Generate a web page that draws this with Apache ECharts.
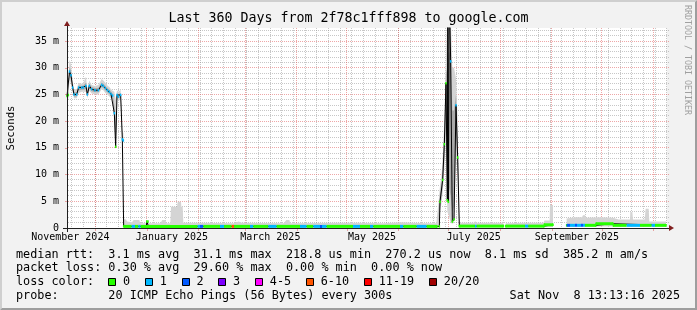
<!DOCTYPE html>
<html><head><meta charset="utf-8">
<script src="https://cdn.jsdelivr.net/npm/echarts@6/dist/echarts.min.js"></script>
<style>html,body{margin:0;padding:0;background:#f2f2f2;}#c{width:697px;height:310px;}</style>
</head><body><div id="c"></div>
<script>
// ---- time window: x values are days since the window start ----
const START = Date.UTC(2024, 10, 14, 0, 30);
const SPAN_DAYS = 360;
const Y_MAX = 37.45; // ms
const DAY = 86400000;

// ---- axis tick labels ----
const xLabelText = ['November 2024','January 2025','March 2025','May 2025','July 2025','September 2025'];
const xLabelMonth = [[2024,10],[2025,0],[2025,2],[2025,4],[2025,6],[2025,8]];
const yMajorTicks = [0,5,10,15,20,25,30,35];

// ---- loss colour legend ----
const lossLabels = ['0','1','2','3','4-5','6-10','11-19','20/20'];
const lossColors = ['#26ff00','#00b8ff','#0059ff','#7e00ff','#ff00ff','#ff5500','#ff0000','#a00000'];

// ---- median rtt samples (ms), null = no data ----
const medianDay = [0,0.8,1.5,2.4,3.4,4.2,5.8,7.0,8.8,9.8,11.4,12.2,13.4,14.8,16.8,18.8,20.8,21.8,23.0,24.2,25.4,26.4,27.4,28.4,29.2,30.0,30.8,32.2,33.2,33.8,
  34.0,47.6,47.9,48.6,48.9,222.0,
  223.4,223.8,225.4,226.4,227.4,228.2,228.5,228.8,229.4,230.2,231.2,232.2,233.4,234.4,235.4,
  235.6,261.8,262.5,
  263.2,286.2,286.4,291.6,295.0,
  299.8,317.2,317.4,327.6,327.8,359.4];
const medianMs = [24.7,24.9,29.3,28.6,26.3,25.0,25.0,26.3,26.3,26.3,26.6,25.0,26.6,26.0,25.8,25.8,26.8,26.6,26.2,25.8,25.5,25.1,24.8,21.5,15.2,24.9,24.6,24.9,16.6,16.4,
  0.3,0.3,1.2,1.2,0.3,0.3,
  0.3,4.9,9.0,15.7,27.1,5.2,45,4.9,45,31.2,1.2,1.6,23.0,13.2,0.35,
  0.35,0.35,null,
  0.35,0.35,0.6,0.6,null,
  0.5,0.5,0.8,0.8,0.5,0.5];
const medianLoss = [0,0,1,1,1,1,1,1,1,1,1,1,1,1,1,1,1,1,1,1,1,1,1,1,0,1,1,1,1,1,
  0,0,0,0,0,0,
  0,0,0,0,0,0,0,0,0,1,0,0,1,0,0,
  0,0,0,
  0,0,0,0,0,
  0,0,0,0,0,0];

// ---- loss-coloured median runs ----
const stripFrom = [34.2,38.8,40.8,42.8,44.2,78.4,79.8,81.8,91.8,94.2,98.8,100.2,109.8,111.8,120.8,125.8,139.8,143.8,147.8,151.8,153.0,155.8,171.6,175.8,181.8,183.8,199.8,201.8,209.8,215.8,
  235.6,244.8,245.8,
  263.2,274.8,276.8,286.2,
  299.8,301.8,304.8,306.0,308.4,309.6,310.8,317.4,327.6,335.8,343.8,350.8,352.8];
const stripTo = [38.8,40.8,42.8,44.2,78.4,79.8,81.8,91.8,94.2,98.8,100.2,109.8,111.8,120.8,125.8,139.8,143.8,147.8,151.8,153.0,155.8,171.6,175.8,181.8,183.8,199.8,201.8,209.8,215.8,222.0,
  244.8,245.8,261.8,
  274.8,276.8,286.2,291.6,
  301.8,304.8,306.0,308.4,309.6,310.8,317.4,327.6,335.8,343.8,350.8,352.8,359.4];
const stripMs = [0.3,0.3,0.3,0.3,0.3,0.3,0.3,0.3,0.3,0.3,0.3,0.3,0.3,0.3,0.3,0.3,0.3,0.3,0.3,0.3,0.3,0.3,0.3,0.3,0.3,0.3,0.3,0.3,0.3,0.3,
  0.35,0.35,0.35,
  0.35,0.35,0.35,0.6,
  0.5,0.5,0.5,0.5,0.5,0.5,0.5,0.8,0.5,0.5,0.5,0.5,0.5];
const stripLoss = [0,1,0,1,0,1,2,0,1,0,5,0,1,0,1,0,1,0,1,2,1,0,1,0,1,0,1,0,1,0,
  0,1,0,
  0,1,0,0,
  2,1,2,1,2,1,0,0,0,1,0,1,0];

// ---- smoke (full ping spread), ms ----
const smokeDay = [0,0.8,1.5,2.4,3.4,4.2,5.8,7.0,8.8,9.8,11.4,12.2,13.4,14.8,16.8,18.8,20.8,21.8,23.0,24.2,25.4,26.4,27.4,28.4,29.2,30.0,30.8,32.2,33.2,33.8,
  34.0,35.4,36.0,39.0,40.0,43.4,44.0,47.6,48.0,48.8,49.2,56.0,57.2,59.0,59.6,62.0,62.4,66.0,66.4,68.4,68.6,69.4,69.8,80.0,100.0,103.0,105.0,130.0,131.6,133.4,134.0,160.0,175.0,190.0,200.0,215.0,221.6,
  223.0,223.8,224.6,225.4,226.4,227.4,228.2,229.0,230.2,231.2,232.2,233.4,234.4,235.2,235.6,
  244.4,244.8,245.8,261.8,262.4,
  263.2,275.0,286.0,286.4,289.6,289.8,291.6,292.0,
  299.8,305.0,309.0,309.6,310.8,311.4,320.0,327.6,331.0,337.8,338.0,339.2,339.6,346.6,347.2,349.0,349.4,359.4];
const smokeLo = [24.0,24.2,27.8,27.0,25.5,24.3,24.3,25.3,25.5,25.5,25.5,24.3,25.7,25.2,25.0,25.0,26.0,25.8,25.3,25.0,24.6,24.3,24.0,20.0,14.8,24.0,23.9,24.0,16.0,16.0,
  0.2,0.2,0.2,0.2,0.2,0.2,0.2,0.2,0.2,0.2,0.2,0.2,0.2,0.2,0.2,0.2,0.2,0.2,0.2,0.2,0.2,0.2,0.2,0.2,0.2,0.2,0.2,0.2,0.2,0.2,0.2,0.2,0.2,0.2,0.2,0.2,0.2,
  0.2,3.0,4.5,6.5,11.0,17.0,3.0,2.5,1.0,0.8,1.0,14.0,10.0,0.5,0.2,
  0.2,0.2,0.2,0.2,null,
  0.2,0.2,0.2,0.2,0.2,0.2,0.2,null,
  0.3,0.3,0.3,0.3,0.3,0.3,0.3,0.3,0.3,0.3,0.3,0.3,0.3,0.3,0.3,0.3,0.3,0.3];
const smokeHi = [25.5,27.0,31.5,30.5,27.5,26.0,26.0,27.2,27.0,27.2,28.3,26.0,27.6,26.8,26.6,26.8,27.9,27.6,27.2,26.7,26.4,26.0,25.7,25.5,24.0,25.8,25.5,25.9,18.0,17.8,
  1.7,1.6,1.2,1.1,1.5,1.5,0.9,0.9,1.3,1.3,0.9,0.9,1.5,1.5,0.9,0.9,4.0,4.0,4.9,4.9,4.0,4.0,1.0,1.0,0.9,1.2,1.0,0.9,1.5,1.5,0.9,1.0,1.0,0.9,1.1,0.9,0.9,
  5.0,8.0,9.5,13.0,20.0,32.0,40,40,40,30,30,28.0,20.0,3.0,1.0,
  1.0,1.3,1.0,1.0,null,
  0.9,1.0,1.0,1.4,1.4,4.3,4.3,null,
  1.8,2.0,2.0,2.4,2.4,1.9,2.0,1.9,1.6,1.6,3.0,3.0,1.6,1.6,3.6,3.6,1.2,1.2];

// ---- denser smoke core (most pings), ms ----
const coreDay = [0,0.8,1.5,2.4,3.4,4.2,5.8,7.0,8.8,9.8,11.4,12.2,13.4,14.8,16.8,18.8,20.8,21.8,23.0,24.2,25.4,26.4,27.4,28.4,29.2,30.0,30.8,32.2,33.2,33.8,33.9,
  223.0,223.8,224.6,225.4,226.4,227.4,228.2,229.0,230.2,231.2,232.2,233.4,234.4,235.2];
const coreLo = [24.4,24.5,28.6,27.8,25.9,24.6,24.6,25.8,25.9,25.9,26.0,24.6,26.1,25.6,25.4,25.4,26.4,26.2,25.8,25.4,25.1,24.7,24.4,20.8,15.0,24.5,24.3,24.5,16.3,16.2,null,
  1.0,4.0,5.5,8.0,13.0,22.0,8.0,8.0,6.0,3.0,4.0,18.0,12.0,1.0];
const coreHi = [25.1,25.6,30.2,29.4,26.8,25.4,25.4,26.7,26.6,26.7,27.2,25.4,27.0,26.4,26.2,26.2,27.2,27.0,26.6,26.2,25.9,25.5,25.2,23.0,20.0,25.2,25.0,25.3,17.2,17.0,null,
  3.0,6.5,8.0,11.0,17.5,29.0,30.0,32.0,34.0,22.0,22.0,25.0,16.0,2.0];

// ---- derived tick positions ----
const monthStartDays = [];
for (let m = 11; m <= 23; m++) {
  const d = (Date.UTC(2024, m, 1) - START) / DAY;
  if (d > 0 && d < SPAN_DAYS) monthStartDays.push(d);
}
const weekDays = [];
for (let t = Date.UTC(2024, 10, 17); (t - START) / DAY < SPAN_DAYS; t += 7 * DAY) weekDays.push((t - START) / DAY);
const xLabelDays = xLabelMonth.map(([y, m]) => (Date.UTC(y, m, 16) - START) / DAY);
const yMinorTicks = [];
for (let v = 1; v < Y_MAX; v++) if (v % 5 !== 0) yMinorTicks.push(v);

// ---- build series data ----
const smokeData = smokeDay.map((d, i) => [d, smokeLo[i], smokeHi[i]]);
const coreData = coreDay.map((d, i) => [d, coreLo[i], coreHi[i]]);
const medianData = medianDay.map((d, i) => ({value: [d, medianMs[i]], itemStyle: {color: lossColors[medianLoss[i]]}}));
const stripData = stripFrom.map((d, i) => [d, stripTo[i], stripMs[i], stripLoss[i]]);

const MONO = "'DejaVu Sans Mono', monospace";
const MGRID = 'rgba(222,79,79,0.5)';
const GRID = 'rgba(143,143,143,0.5)';

const GL = 67, GT = 28, GW = 600, GH = 200;

const chart = echarts.init(document.getElementById('c'), null, {width: 697, height: 310});

function txt(x, y, text, extra) {
  return Object.assign({type: 'text', x: x, y: y, silent: true,
    style: Object.assign({text: text, fill: '#000', fontFamily: 'DejaVu Sans Mono', fontSize: 11.8,
      align: 'left', textAlign: 'left', verticalAlign: 'middle', textVerticalAlign: 'middle'}, extra && extra.style || {})},
    extra && extra.rotation !== undefined ? {rotation: extra.rotation} : {});
}

const graphics = [];
graphics.push({type: 'polygon', shape: {points: [[0,310],[2,308],[2,2],[695,2],[697,0],[0,0]]}, style: {fill: '#cfcfcf'}, silent: true});
graphics.push({type: 'polygon', shape: {points: [[2,308],[695,308],[695,2],[697,0],[697,310],[0,310]]}, style: {fill: '#9e9e9e'}, silent: true});
graphics.push(txt(348.5, 18.5, 'Last 360 Days from 2f78c1fff898 to google.com', {style: {fontSize: 13.3, align: 'center', textAlign: 'center'}}));
graphics.push(txt(10.8, GT + GH / 2, 'Seconds', {rotation: Math.PI / 2, style: {fontSize: 10.7, align: 'center', textAlign: 'center'}}));
graphics.push(txt(687.5, 60, 'RRDTOOL / TOBI OETIKER', {rotation: -Math.PI / 2, style: {fontSize: 8.3, fill: '#a0a0a0', align: 'center', textAlign: 'center'}}));
graphics.push(txt(16, 254.5, 'median rtt:  3.1 ms avg  31.1 ms max  218.8 us min  270.2 us now  8.1 ms sd  385.2 m am/s'));
graphics.push(txt(16, 268, 'packet loss: 0.30 % avg  29.60 % max  0.00 % min  0.00 % now'));
graphics.push(txt(16, 282, 'loss color:'));
graphics.push(txt(16, 296, 'probe:       20 ICMP Echo Pings (56 Bytes) every 300s'));
graphics.push(txt(680, 296, 'Sat Nov  8 13:13:16 2025', {style: {align: 'right', textAlign: 'right'}}));
let bx = 108.3;
lossLabels.forEach((lab, i) => {
  const rx = Math.round(bx) + 0.5;
  graphics.push({type: 'rect', shape: {x: rx, y: 278.5, width: 7, height: 7}, style: {fill: lossColors[i], stroke: '#000', lineWidth: 1}, silent: true});
  graphics.push(txt(bx + 14.7, 282, lab));
  bx = bx + 14.7 + lab.length * 7.1 + 14.9;
});
graphics.push({type: 'polygon', shape: {points: [[GL + GW + 2, GT + GH - 3], [GL + GW + 2, GT + GH + 3], [GL + GW + 7, GT + GH]]}, style: {fill: '#801f1f'}, silent: true, z: 100});
graphics.push({type: 'polygon', shape: {points: [[GL - 3, GT - 2], [GL + 3, GT - 2], [GL, GT - 7]]}, style: {fill: '#801f1f'}, silent: true, z: 100});
graphics.push({type: 'line', shape: {x1: GL - 4, y1: GT + GH + 0.5, x2: GL + GW + 4, y2: GT + GH + 0.5}, style: {stroke: '#1f1f1f', lineWidth: 1}, silent: true, z: 99});
graphics.push({type: 'line', shape: {x1: GL + 0.5, y1: GT + GH + 4, x2: GL + 0.5, y2: GT - 4}, style: {stroke: '#1f1f1f', lineWidth: 1}, silent: true, z: 99});

const crisp = v => Math.round(v - 0.5) + 0.5;

function bandRenderer(days, lo, hi, color) {
  return (params, api) => {
    if (params.dataIndex !== 0) return null;
    const children = [];
    let run = [];
    const flush = () => {
      if (run.length > 1) {
        const top = run.map(i => api.coord([days[i], hi[i]]));
        const bot = run.map(i => api.coord([days[i], lo[i]])).reverse();
        children.push({type: 'polygon', shape: {points: top.concat(bot)}, style: {fill: color}});
      }
      run = [];
    };
    for (let i = 0; i < days.length; i++) {
      if (lo[i] == null || hi[i] == null) flush(); else run.push(i);
    }
    flush();
    return {type: 'group', children: children};
  };
}

const option = {
  backgroundColor: '#f2f2f2',
  animation: false,
  grid: {left: GL, top: GT, width: GW, height: GH, show: true, backgroundColor: '#ffffff', borderWidth: 0, z: 0},
  xAxis: [
    {type: 'value', min: 0, max: SPAN_DAYS, position: 'bottom',
      axisLine: {show: true, onZero: false, lineStyle: {color: '#1f1f1f', width: 1}},
      axisTick: {show: true, customValues: monthStartDays, length: 3, lineStyle: {color: MGRID}},
      axisLabel: {show: true, customValues: xLabelDays, margin: 4, fontFamily: MONO, fontSize: 10, color: '#000',
        formatter: v => { const i = xLabelDays.findIndex(d => Math.abs(d - v) < 0.01); return i >= 0 ? xLabelText[i] : ''; }},
      splitLine: {show: false}}
  ],
  yAxis: [
    {type: 'value', min: 0, max: Y_MAX, position: 'left',
      axisLine: {show: true, onZero: false, lineStyle: {color: '#1f1f1f', width: 1}},
      axisTick: {show: true, customValues: yMajorTicks, length: 2, lineStyle: {color: MGRID}},
      axisLabel: {show: true, customValues: yMajorTicks, margin: 8, fontFamily: MONO, fontSize: 10, color: '#000',
        formatter: v => v === 0 ? '0' : v + ' m'},
      splitLine: {show: false}}
  ],
  series: [
    {name: 'grid', type: 'custom', data: [[0, 0]], silent: true, z: 1, clip: false,
      renderItem: (params, api) => {
        const children = [];
        const x0 = api.coord([0, 0])[0], x1 = api.coord([SPAN_DAYS, 0])[0];
        const yb = api.coord([0, 0])[1], yt = api.coord([0, Y_MAX])[1];
        const hline = (v, color) => { const y = crisp(api.coord([0, v])[1]);
          children.push({type: 'line', shape: {x1: x0 + 1, y1: y, x2: x1 + 2, y2: y}, style: {stroke: color, lineWidth: 1, lineDash: [1, 1]}}); };
        const vline = (d, color) => { const x = crisp(api.coord([d, 0])[0]);
          children.push({type: 'line', shape: {x1: x, y1: yt, x2: x, y2: yb}, style: {stroke: color, lineWidth: 1, lineDash: [1, 1]}}); };
        weekDays.forEach(d => vline(d, GRID));
        yMinorTicks.forEach(v => hline(v, GRID));
        monthStartDays.forEach(d => vline(d, MGRID));
        yMajorTicks.filter(v => v > 0).forEach(v => hline(v, MGRID));
        return {type: 'group', children: children};
      }},
    {name: 'smoke', type: 'custom', data: smokeData, silent: true, z: 2, clip: true,
      encode: {x: 0, y: [1, 2]}, renderItem: bandRenderer(smokeDay, smokeLo, smokeHi, '#d4d4d4')},
    {name: 'smokeCore', type: 'custom', data: coreData, silent: true, z: 2, clip: true,
      encode: {x: 0, y: [1, 2]}, renderItem: bandRenderer(coreDay, coreLo, coreHi, '#aaaaaa')},
    {name: 'median', type: 'line', data: medianData, silent: true, z: 3,
      lineStyle: {color: '#000', width: 1}, symbol: 'rect', symbolSize: [1.5, 2.5], showSymbol: true, showAllSymbol: true},
    {name: 'loss', type: 'custom', data: stripData, silent: true, z: 4, clip: true,
      encode: {x: [0, 1], y: 2},
      renderItem: (params, api) => {
        const a = api.coord([api.value(0), api.value(2)]);
        const b = api.coord([api.value(1), api.value(2)]);
        return {type: 'rect', shape: {x: a[0], y: a[1] - 1.5, width: b[0] - a[0], height: 3},
          style: {fill: lossColors[api.value(3)]}};
      }}
  ],
  graphic: graphics
};
chart.setOption(option);
</script>
</body></html>
